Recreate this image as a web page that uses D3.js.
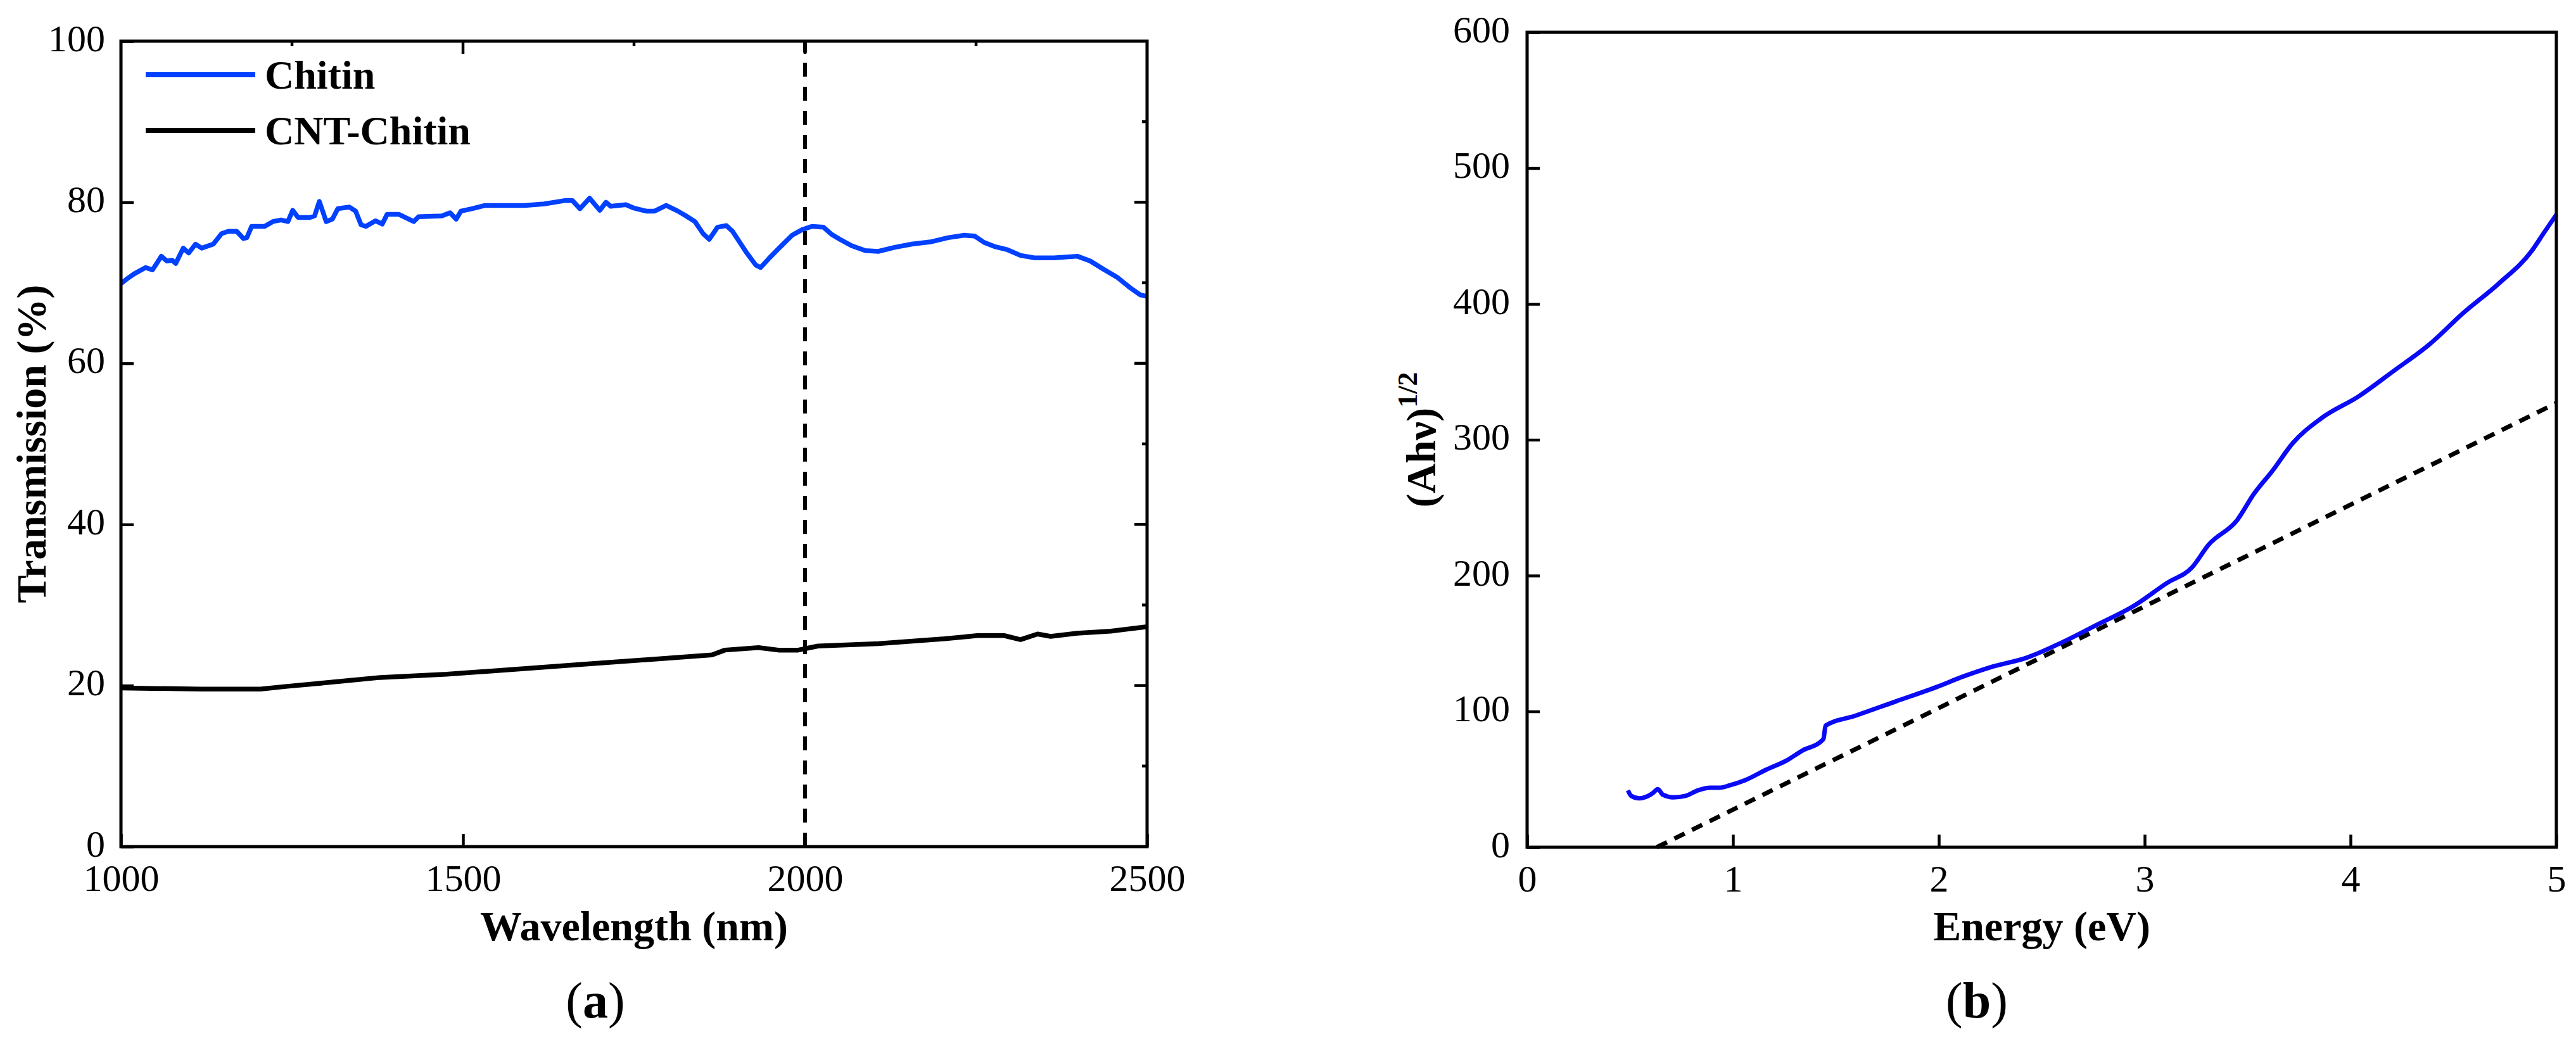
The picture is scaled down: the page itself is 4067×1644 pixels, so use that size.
<!DOCTYPE html>
<html>
<head>
<meta charset="utf-8">
<script src="https://cdn.jsdelivr.net/npm/d3@7"></script>
<style>
  body { margin: 0; background: #fff; }
  svg { display: block; }
  text { font-family: "Liberation Serif", "Times New Roman", serif; fill: #000; }
</style>
</head>
<body>
<svg id="chart" width="4067" height="1644"></svg>
<script>
// ---------- data ----------
// (a) transmission spectra
const wlChitin = [1000,1009,1019,1036,1046,1053,1059,1067,1075,1080,1091,1099,1109,1118,1135,1147,1157,1169,1179,1184,
  1191,1210,1222,1234,1244,1251,1259,1276,1283,1290,1300,1309,1317,1334,1343,1351,1358,1372,1382,1389,
  1406,1428,1435,1469,1481,1490,1497,1513,1532,1590,1619,1648,1660,1671,1685,1700,1709,1716,1738,1749,
  1768,1780,1797,1814,1826,1839,1851,1860,1872,1885,1894,1914,1928,1935,1947,1962,1981,1996,2010,2027,
  2039,2051,2068,2088,2107,2131,2156,2185,2209,2233,2248,2262,2277,2296,2315,2335,2364,2398,2417,2436,
  2456,2475,2490,2500];
const trChitin = [69.9,70.5,71.1,71.9,71.6,72.5,73.3,72.7,72.8,72.4,74.3,73.7,74.8,74.3,74.8,76.1,76.4,76.4,75.5,75.6,
  77.0,77.0,77.6,77.8,77.6,79.0,78.1,78.1,78.3,80.1,77.6,77.9,79.2,79.4,78.9,77.2,77.0,77.7,77.3,78.5,
  78.5,77.6,78.2,78.3,78.7,77.9,78.9,79.2,79.6,79.6,79.8,80.2,80.2,79.2,80.5,79.0,80.0,79.5,79.7,79.3,
  78.9,78.9,79.6,78.9,78.3,77.6,76.1,75.4,76.9,77.1,76.4,73.8,72.2,71.9,73.0,74.3,75.9,76.6,77.0,76.9,
  76.0,75.4,74.6,74.0,73.9,74.4,74.8,75.1,75.6,75.9,75.8,75.0,74.5,74.1,73.4,73.1,73.1,73.3,72.7,71.7,
  70.7,69.4,68.5,68.3];
const wlCnt = [1000,1117,1204,1243,1282,1330,1379,1476,1573,1670,1767,1864,1883,1932,1961,1990,2019,2107,2204,2252,
  2291,2315,2340,2359,2398,2447,2500];
const trCnt = [19.7,19.55,19.55,19.9,20.2,20.6,21.0,21.4,22.0,22.6,23.2,23.8,24.4,24.7,24.4,24.4,24.9,25.2,25.8,26.2,
  26.2,25.7,26.4,26.1,26.5,26.75,27.3];
const markerWl = 2000;

// (b) Tauc plot
const energy = [0.49,0.505,0.545,0.59,0.61,0.635,0.66,0.71,0.77,0.83,0.89,0.935,0.985,1.06,1.16,1.26,1.34,1.43,1.44,1.45,
  1.59,1.79,1.99,2.12,2.25,2.43,2.60,2.77,2.94,3.11,3.23,3.31,3.45,3.53,3.62,3.72,3.86,4.04,4.21,4.38,
  4.55,4.72,4.88,4.94,5.0];
const tauc = [41.9,37.9,36.0,37.9,39.8,42.8,38.6,36.7,37.8,41.9,43.8,43.8,45.6,49.4,57.0,63.8,71.4,78.2,80.0,89.5,
  96.6,107.3,118.0,125.8,132.5,139.7,150.9,163.9,177.0,194.7,206.0,222.6,241.0,260.0,277.0,297.6,316.0,332.0,350.7,369.8,
  393.6,415.0,439.0,452.5,465.8];
const fitE = [0.63, 5.0];
const fitV = [0, 327];

const ticksWl = [1000, 1500, 2000, 2500];
const ticksTr = [0, 20, 40, 60, 80, 100];
const ticksE = [0, 1, 2, 3, 4, 5];
const ticksT = [0, 100, 200, 300, 400, 500, 600];

// ---------- layout ----------
const svg = d3.select('#chart');
const FONT = '"Liberation Serif", "Times New Roman", serif';

const xL = d3.scaleLinear().domain([1000, 2500]).range([191, 1811]);
const yL = d3.scaleLinear().domain([0, 100]).range([1337, 65]);
const xR = d3.scaleLinear().domain([0, 5]).range([2411, 4036]);
const yR = d3.scaleLinear().domain([0, 600]).range([1338, 51]);

function styleAxis(g) {
  g.attr('font-family', FONT).attr('font-size', 60);
  g.selectAll('.domain').remove();
  g.selectAll('.tick line').attr('stroke', '#000').attr('stroke-width', 4.5);
  g.selectAll('.tick text').attr('fill', '#000');
}

function frame(x, y) {
  svg.append('rect')
    .attr('x', x.range()[0]).attr('y', y.range()[1])
    .attr('width', x.range()[1] - x.range()[0])
    .attr('height', y.range()[0] - y.range()[1])
    .attr('fill', 'none').attr('stroke', '#000').attr('stroke-width', 5);
}

// ---------- panel (a) ----------
svg.append('g').attr('transform', `translate(0,${yL(0)})`)
  .call(d3.axisBottom(xL).tickValues(ticksWl).tickFormat(d3.format('d')).tickSizeInner(-20).tickSizeOuter(0).tickPadding(27))
  .call(styleAxis);
svg.append('g').attr('transform', `translate(${xL(1000)},0)`)
  .call(d3.axisLeft(yL).tickValues(ticksTr).tickSizeInner(-20).tickSizeOuter(0).tickPadding(25))
  .call(styleAxis)
  .call(g => g.selectAll('.tick text').attr('dy', '0.25em'));

// top and right mirror ticks (major + minor)
const topTicks = d3.range(1250, 2500, 250);
svg.append('g').selectAll('line').data(topTicks).join('line')
  .attr('x1', d => xL(d)).attr('x2', d => xL(d))
  .attr('y1', yL(100)).attr('y2', d => yL(100) + (d % 500 === 0 ? 20 : 8))
  .attr('stroke', '#000').attr('stroke-width', 4.5);
const rightTicks = d3.range(10, 100, 10);
svg.append('g').selectAll('line').data(rightTicks).join('line')
  .attr('y1', d => yL(d)).attr('y2', d => yL(d))
  .attr('x1', xL(2500)).attr('x2', d => xL(2500) - (d % 20 === 0 ? 20 : 8))
  .attr('stroke', '#000').attr('stroke-width', 4.5);

const lineL = d3.line().x(d => xL(d[0])).y(d => yL(d[1]));
svg.append('path').datum(d3.zip(wlCnt, trCnt))
  .attr('d', lineL).attr('fill', 'none').attr('stroke', '#000')
  .attr('stroke-width', 7.5).attr('stroke-linejoin', 'round');
svg.append('path').datum(d3.zip(wlChitin, trChitin))
  .attr('d', lineL).attr('fill', 'none').attr('stroke', '#0040ff')
  .attr('stroke-width', 7.5).attr('stroke-linejoin', 'round');

svg.append('line')
  .attr('x1', xL(markerWl)).attr('x2', xL(markerWl))
  .attr('y1', yL(0)).attr('y2', yL(100))
  .attr('stroke', '#000').attr('stroke-width', 6).attr('stroke-dasharray', '22,16');

frame(xL, yL);

// legend
const legend = [
  { label: 'Chitin', color: '#0040ff', y: 118 },
  { label: 'CNT-Chitin', color: '#000', y: 206 }
];
const lg = svg.append('g');
lg.selectAll('line').data(legend).join('line')
  .attr('x1', 230).attr('x2', 403).attr('y1', d => d.y).attr('y2', d => d.y)
  .attr('stroke', d => d.color).attr('stroke-width', 8);
lg.selectAll('text').data(legend).join('text')
  .attr('x', 418).attr('y', d => d.y + 22)
  .attr('font-size', 64).attr('font-weight', 'bold')
  .text(d => d.label);

svg.append('text')
  .attr('x', (xL.range()[0] + xL.range()[1]) / 2).attr('y', 1485)
  .attr('text-anchor', 'middle').attr('font-size', 66).attr('font-weight', 'bold')
  .text('Wavelength (nm)');
svg.append('text')
  .attr('transform', `translate(72,${(yL.range()[0] + yL.range()[1]) / 2}) rotate(-90)`)
  .attr('text-anchor', 'middle').attr('font-size', 66).attr('font-weight', 'bold')
  .text('Transmission (%)');

// ---------- panel (b) ----------
svg.append('g').attr('transform', `translate(0,${yR(0)})`)
  .call(d3.axisBottom(xR).tickValues(ticksE).tickFormat(d3.format('d')).tickSizeInner(-20).tickSizeOuter(0).tickPadding(27))
  .call(styleAxis);
svg.append('g').attr('transform', `translate(${xR(0)},0)`)
  .call(d3.axisLeft(yR).tickValues(ticksT).tickSizeInner(-20).tickSizeOuter(0).tickPadding(27))
  .call(styleAxis)
  .call(g => g.selectAll('.tick text').attr('dy', '0.25em'));

const lineR = d3.line().x(d => xR(d[0])).y(d => yR(d[1]));
svg.append('path').datum(d3.zip(energy, tauc))
  .attr('d', lineR.curve(d3.curveMonotoneX)).attr('fill', 'none').attr('stroke', '#0a0af5')
  .attr('stroke-width', 7).attr('stroke-linejoin', 'round');
svg.append('path').datum(d3.zip(fitE, fitV))
  .attr('d', d3.line().x(d => xR(d[0])).y(d => yR(d[1]))).attr('fill', 'none').attr('stroke', '#000')
  .attr('stroke-width', 7).attr('stroke-dasharray', '18,13');

frame(xR, yR);

svg.append('text')
  .attr('x', (xR.range()[0] + xR.range()[1]) / 2).attr('y', 1485)
  .attr('text-anchor', 'middle').attr('font-size', 66).attr('font-weight', 'bold')
  .text('Energy (eV)');
const yt = svg.append('text')
  .attr('transform', `translate(2266,${(yR.range()[0] + yR.range()[1]) / 2}) rotate(-90)`)
  .attr('text-anchor', 'middle').attr('font-size', 66).attr('font-weight', 'bold');
yt.append('tspan').text('(Ahν)');
yt.append('tspan').attr('font-size', 44).attr('dy', -29).text('1/2');

// ---------- captions ----------
const captions = [{ t: 'a', x: 940 }, { t: 'b', x: 3121 }];
captions.forEach(c => {
  const t = svg.append('text').attr('x', c.x).attr('y', 1607)
    .attr('text-anchor', 'middle').attr('font-size', 80);
  t.append('tspan').text('(');
  t.append('tspan').attr('font-weight', 'bold').text(c.t);
  t.append('tspan').text(')');
});
</script>
</body>
</html>
